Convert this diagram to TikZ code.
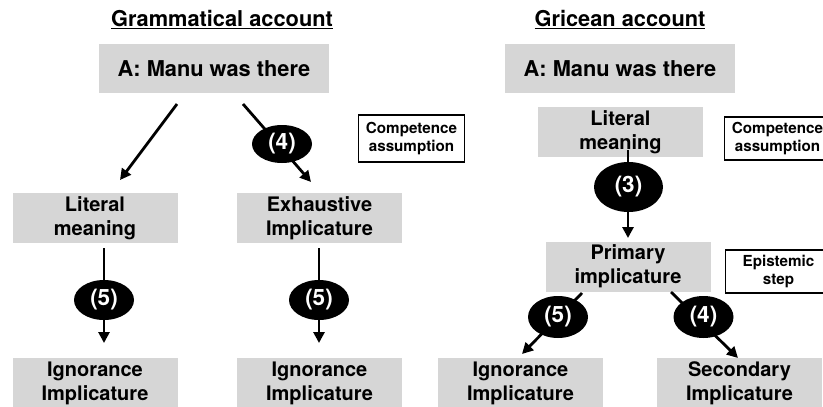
\documentclass[tikz,border=0pt]{standalone}
\usepackage{fontspec}
\setmainfont{TeX Gyre Heros}
\usetikzlibrary{arrows.meta,shapes.geometric}
\definecolor{boxgray}{RGB}{214,214,214}
\begin{document}
\begin{tikzpicture}[x=1pt,y=-1pt,
  gbox/.style={rectangle,fill=boxgray,inner sep=0pt,align=center,font=\bfseries\fontsize{20}{24}\selectfont},
  topbox/.style={gbox,minimum width=230pt,minimum height=49pt,font=\bfseries\fontsize{21.8}{26}\selectfont},
  midbox/.style={gbox,minimum width=165pt,minimum height=50pt},
  wbox/.style={rectangle,draw=black,line width=1.8pt,fill=white,inner sep=0pt,minimum width=106pt,align=center,font=\bfseries\fontsize{15.2}{18.5}\selectfont},
  blob/.style={ellipse,fill=black,text=white,inner sep=0pt,font=\bfseries\fontsize{22.5}{26}\selectfont},
  ttl/.style={font=\bfseries\fontsize{21.8}{26}\selectfont},
  arr/.style={line width=2.8pt,-{Triangle[length=11pt,width=11pt]}}]
\useasboundingbox (0,0) rectangle (823,407);
\clip (0,0) rectangle (823,407);
\fill[white] (0,0) rectangle (823,407);

% titles
\node[ttl] (t1) at (222,20) {\underline{Grammatical account}};
\node[ttl] (t2) at (620,20) {\underline{Gricean account}};

% left side
\node[topbox] (topL) at (214,68.5) {A: Manu was there};
\node[midbox] (litL) at (95,218) {Literal\\meaning};
\node[midbox] (exhL) at (319.5,218) {Exhaustive\\Implicature};
\node[midbox] (ignL1) at (95,383) {Ignorance\\Implicature};
\node[midbox] (ignL2) at (319.5,383) {Ignorance\\Implicature};
\node[wbox,minimum height=47pt] (compL) at (411.5,138.5) {Competence\\assumption};

% right side
\node[topbox] (topR) at (620,68.5) {A: Manu was there};
\node[midbox] (litR) at (620.5,132) {Literal\\meaning};
\node[midbox] (prim) at (628,266.5) {Primary\\implicature};
\node[midbox] (ignR) at (520.5,383) {Ignorance\\Implicature};
\node[midbox] (sec) at (739.5,383) {Secondary\\Implicature};
\node[wbox,minimum height=43pt] (compR) at (777.5,138.5) {Competence\\assumption};
\node[wbox,minimum height=43pt] (epis) at (778.5,271.5) {Epistemic\\step};

% connector end points
\coordinate (a1s) at (177,104); \coordinate (a1e) at (120,180);
\coordinate (a2s) at (243,104); \coordinate (a2e) at (311,182);
\coordinate (a3s) at (104,248); \coordinate (a3e) at (104,343);
\coordinate (a4s) at (319,248); \coordinate (a4e) at (319,343);
\coordinate (a5s) at (628,150); \coordinate (a5e) at (628,238);
\coordinate (a6s) at (582,293); \coordinate (a6e) at (522,354);
\coordinate (a7s) at (671,292); \coordinate (a7e) at (738,358);

\draw[arr] (a1s) -- (a1e);
\draw[arr] (a2s) -- (a2e);
\draw[arr] (a3s) -- (a3e);
\draw[arr] (a4s) -- (a4e);
\draw[arr] (a5s) -- (a5e);
\draw[arr] (a6s) -- (a6e);
\draw[arr] (a7s) -- (a7e);

% labelled ellipses
\node[blob,minimum width=60pt,minimum height=38pt] (e4L) at (282,144) {(4)};
\node[blob,minimum width=60pt,minimum height=40pt] (e5L) at (104,300) {(5)};
\node[blob,minimum width=60pt,minimum height=40pt] (e5M) at (319,300) {(5)};
\node[blob,minimum width=69pt,minimum height=50pt] (e3) at (628.5,187) {(3)};
\node[blob,minimum width=60pt,minimum height=42pt] (e5R) at (558,317) {(5)};
\node[blob,minimum width=60pt,minimum height=42pt] (e4R) at (703.5,317) {(4)};
\end{tikzpicture}
\end{document}
